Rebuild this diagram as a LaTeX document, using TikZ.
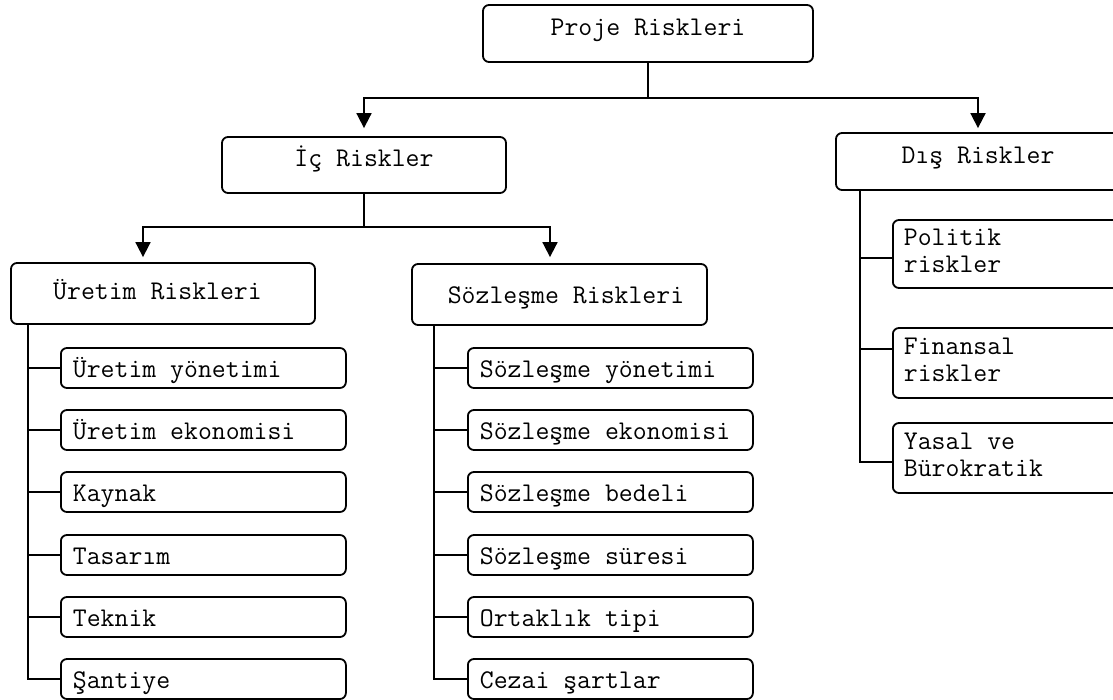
\documentclass[tikz,border=0pt]{standalone}
\usepackage{fontspec}
\usetikzlibrary{arrows.meta}
\begin{document}
\begin{tikzpicture}[x=1pt,y=-1pt,
  every node/.style={font=\ttfamily\fontsize{27}{27}\selectfont, inner sep=0pt},
  frame/.style={draw, rounded corners=6pt, line width=1.8pt},
  headbox/.style={frame, text height=16pt, text depth=12pt},
  leaf/.style={frame, anchor=west, minimum height=40pt, minimum width=285pt,
    text height=22pt, text depth=3pt, inner xsep=12pt},
  sideleaf/.style={frame, anchor=west, minimum width=262pt, inner xsep=11pt},
  conn/.style={line width=1.8pt},
  arr/.style={conn, -{Triangle[width=15pt,length=15pt]}}
]
\useasboundingbox (0,0) rectangle (1113,700);
\begin{scope}
\clip (0,0) rectangle (1113,700);

% top levels
\node[headbox, minimum width=330pt, minimum height=57pt] (pr) at (648,33.5) {Proje Riskleri};
\node[headbox, minimum width=284pt, minimum height=56pt] (ic) at (364,165) {İç Riskler};
\node[headbox, minimum width=284pt, minimum height=57pt] (dis) at (978,161.5) {Dış Riskler};
\node[frame, text height=18pt, text depth=5pt, minimum width=304pt, minimum height=61pt]
  (ur) at (163,293.5) {\hspace*{-11pt}Üretim Riskleri};
\node[frame, text height=22pt, text depth=3pt, minimum width=295pt, minimum height=61pt]
  (sr) at (559.5,294.5) {\hspace*{13pt}Sözleşme Riskleri};

% production risks
\foreach \t/\y [count=\i] in {Üretim yönetimi/368, Üretim ekonomisi/430, Kaynak/492,
    Tasarım/555, Teknik/617, Şantiye/679}
  \node[leaf] (u\i) at (60,\y) {\makebox[261pt][l]{\t}};

% contract risks
\foreach \t/\y [count=\i] in {Sözleşme yönetimi/368, Sözleşme ekonomisi/430,
    Sözleşme bedeli/492, Sözleşme süresi/555, Ortaklık tipi/617, Cezai şartlar/679}
  \node[leaf] (s\i) at (467,\y) {\makebox[261pt][l]{\t}};

% external risks
\node[sideleaf, minimum height=68pt] (d1) at (892,254)
  {\makebox[240pt][l]{\begin{tabular}{@{}l@{}}Politik\\riskler\end{tabular}}};
\node[sideleaf, minimum height=70pt] (d2) at (892,363)
  {\makebox[240pt][l]{\begin{tabular}{@{}l@{}}Finansal\\riskler\end{tabular}}};
\node[sideleaf, minimum height=70pt] (d3) at (892,458)
  {\makebox[240pt][l]{\begin{tabular}{@{}l@{}}Yasal ve\\Bürokratik\end{tabular}}};

% arrows between levels
\coordinate (pj) at ([yshift=-35pt]pr.south);
\draw[conn] (pr.south) -- (pj);
\draw[arr] (pj) -| ([yshift=8pt]ic.north);
\draw[arr] (pj) -| ([yshift=4pt]dis.north);

\coordinate (ij) at ([yshift=-33pt]ic.south);
\draw[conn] (ic.south) -- (ij);
\draw[arr] (ij) -| ([xshift=-20pt,yshift=5pt]ur.north);
\draw[arr] (ij) -| ([xshift=-9.5pt,yshift=6pt]sr.north);

% trunks to the leaves
\coordinate (ut) at ([xshift=18pt]ur.south west);
\draw[conn] (ut) |- (u6.west);
\foreach \i in {1,...,5}
  \draw[conn] (ut |- u\i.west) -- (u\i.west);

\coordinate (st) at ([xshift=23pt]sr.south west);
\draw[conn] (st) |- (s6.west);
\foreach \i in {1,...,5}
  \draw[conn] (st |- s\i.west) -- (s\i.west);

\coordinate (dt) at ([xshift=25pt]dis.south west);
\coordinate (d1c) at ([yshift=-4pt]d1.west);
\coordinate (d2c) at ([yshift=14pt]d2.west);
\coordinate (d3c) at ([yshift=-4pt]d3.west);
\draw[conn] (dt) |- (d3c);
\draw[conn] (dt |- d1c) -- (d1c);
\draw[conn] (dt |- d2c) -- (d2c);
\end{scope}
\end{tikzpicture}
\end{document}
